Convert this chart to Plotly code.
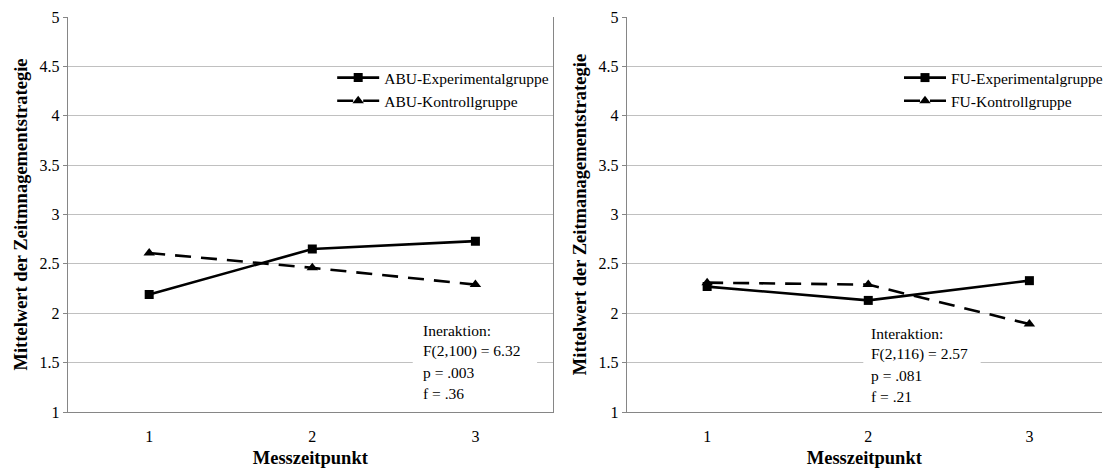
import plotly.graph_objects as go

# ---- data ----
zeitpunkte = [1, 2, 3]
abu_exp = [2.19, 2.65, 2.73]
abu_kon = [2.61, 2.46, 2.29]
fu_exp = [2.27, 2.13, 2.33]
fu_kon = [2.31, 2.29, 1.89]
y_ticks = [1, 1.5, 2, 2.5, 3, 3.5, 4, 4.5, 5]
y_ticktext = ["1", "1.5", "2", "2.5", "3", "3.5", "4", "4.5", "5"]
left_stats = ["Ineraktion:", "F(2,100) = 6.32", "p = .003", "f = .36"]
right_stats = ["Interaktion:", "F(2,116) = 2.57", "p = .081", "f = .21"]

W, H = 1108, 471
MT, MB = 17, 59
PH = H - MT - MB
FONT = "Liberation Serif, Times New Roman, serif"

def px_x(p):
    return p / W

def px_y(p):
    return (H - MB - p) / PH

fig = go.Figure()

LW = 2.6
fig.add_trace(go.Scatter(x=zeitpunkte, y=abu_exp, name="ABU-Experimentalgruppe",
                         mode="lines+markers", line=dict(color="black", width=LW),
                         marker=dict(symbol="square", size=9, color="black"),
                         xaxis="x", yaxis="y", legend="legend"))
fig.add_trace(go.Scatter(x=zeitpunkte, y=abu_kon, name="ABU-Kontrollgruppe",
                         mode="lines+markers", line=dict(color="black", width=LW, dash="16px,10px"),
                         marker=dict(symbol="triangle-up", size=10, color="black"),
                         xaxis="x", yaxis="y", legend="legend"))
fig.add_trace(go.Scatter(x=zeitpunkte, y=fu_exp, name="FU-Experimentalgruppe",
                         mode="lines+markers", line=dict(color="black", width=LW),
                         marker=dict(symbol="square", size=9, color="black"),
                         xaxis="x2", yaxis="y2", legend="legend2"))
fig.add_trace(go.Scatter(x=zeitpunkte, y=fu_kon, name="FU-Kontrollgruppe",
                         mode="lines+markers", line=dict(color="black", width=LW, dash="16px,10px"),
                         marker=dict(symbol="triangle-up", size=10, color="black"),
                         xaxis="x2", yaxis="y2", legend="legend2"))

tickfont = dict(family=FONT, size=16, color="black")
titlefont = dict(family=FONT, size=18.5, color="black", weight="bold")
TXT = 15.5
grid = "#c0c0c0"
axcol = "#868686"

def xaxis(domain, rng, anchor):
    return dict(domain=domain, range=rng, anchor=anchor, tickvals=zeitpunkte,
                ticktext=[str(v) for v in zeitpunkte], ticks="outside", ticklen=10,
                tickcolor="rgba(0,0,0,0)", tickfont=tickfont, showgrid=False,
                showline=True, linecolor=axcol, linewidth=1, zeroline=False,
                title=dict(text="Messzeitpunkt", font=titlefont, standoff=6))

def yaxis(anchor, title, mirror):
    return dict(domain=[0, 1], range=[1, 5], anchor=anchor, tickvals=y_ticks,
                ticktext=y_ticktext, ticks="outside", ticklen=4, tickcolor=axcol,
                tickfont=tickfont, showgrid=True, gridcolor=grid, gridwidth=1,
                showline=True, linecolor=axcol, linewidth=1, zeroline=False,
                mirror=mirror, title=dict(text=title, font=titlefont, standoff=6))

L0, L1 = px_x(68), px_x(556)
R0, R1 = px_x(630), 1.0
lrange = [0.5, 0.5 + (556 - 68) / 164.0]
rrange = [0.5, 0.5 + (W - 630) / 162.0]

fig.update_layout(
    width=W, height=H, margin=dict(l=0, r=0, t=MT, b=MB),
    paper_bgcolor="white", plot_bgcolor="white",
    font=dict(family=FONT, color="black"),
    xaxis=xaxis([L0, L1], lrange, "y"),
    yaxis=yaxis("x", "Mittelwert der Zeitmnagementstrategie", True),
    xaxis2=xaxis([R0, R1], rrange, "y2"),
    yaxis2=yaxis("x2", "Mittelwert der Zeitmanagementstrategie", False),
    xaxis3=dict(domain=[L0, L1], range=lrange, overlaying="x", anchor="y",
                tickvals=[0.5, 1.5, 2.5, 3.5], ticks="outside", ticklen=4,
                tickcolor=axcol, showticklabels=False, showgrid=False,
                showline=False, zeroline=False),
    xaxis4=dict(domain=[R0, R1], range=rrange, overlaying="x2", anchor="y2",
                tickvals=[0.5, 1.5, 2.5, 3.5], ticks="outside", ticklen=4,
                tickcolor=axcol, showticklabels=False, showgrid=False,
                showline=False, zeroline=False),
    legend=dict(x=px_x(334), y=px_y(61), xanchor="left", yanchor="top",
                bgcolor="rgba(0,0,0,0)", font=dict(family=FONT, size=TXT, color="black"),
                itemwidth=42, tracegroupgap=0),
    legend2=dict(x=px_x(904), y=px_y(61), xanchor="left", yanchor="top",
                 bgcolor="rgba(0,0,0,0)", font=dict(family=FONT, size=TXT, color="black"),
                 itemwidth=42, tracegroupgap=0),
    showlegend=True,
)

# white boxes behind the statistics text
fig.add_shape(type="rect", xref="paper", yref="paper",
              x0=px_x(415), x1=px_x(540), y0=px_y(405), y1=px_y(318),
              fillcolor="white", line=dict(width=0), layer="above")
fig.add_shape(type="rect", xref="paper", yref="paper",
              x0=px_x(868), x1=px_x(986), y0=px_y(408), y1=px_y(321),
              fillcolor="white", line=dict(width=0), layer="above")

for i, t in enumerate(left_stats):
    fig.add_annotation(text=t, xref="paper", yref="paper", x=px_x(423),
                       y=px_y(330 + 21.3 * i), xanchor="left", yanchor="middle",
                       showarrow=False, font=dict(family=FONT, size=TXT, color="black"))
for i, t in enumerate(right_stats):
    fig.add_annotation(text=t, xref="paper", yref="paper", x=px_x(874),
                       y=px_y(333 + 21.0 * i), xanchor="left", yanchor="middle",
                       showarrow=False, font=dict(family=FONT, size=TXT, color="black"))

fig.write_html("out.html")
